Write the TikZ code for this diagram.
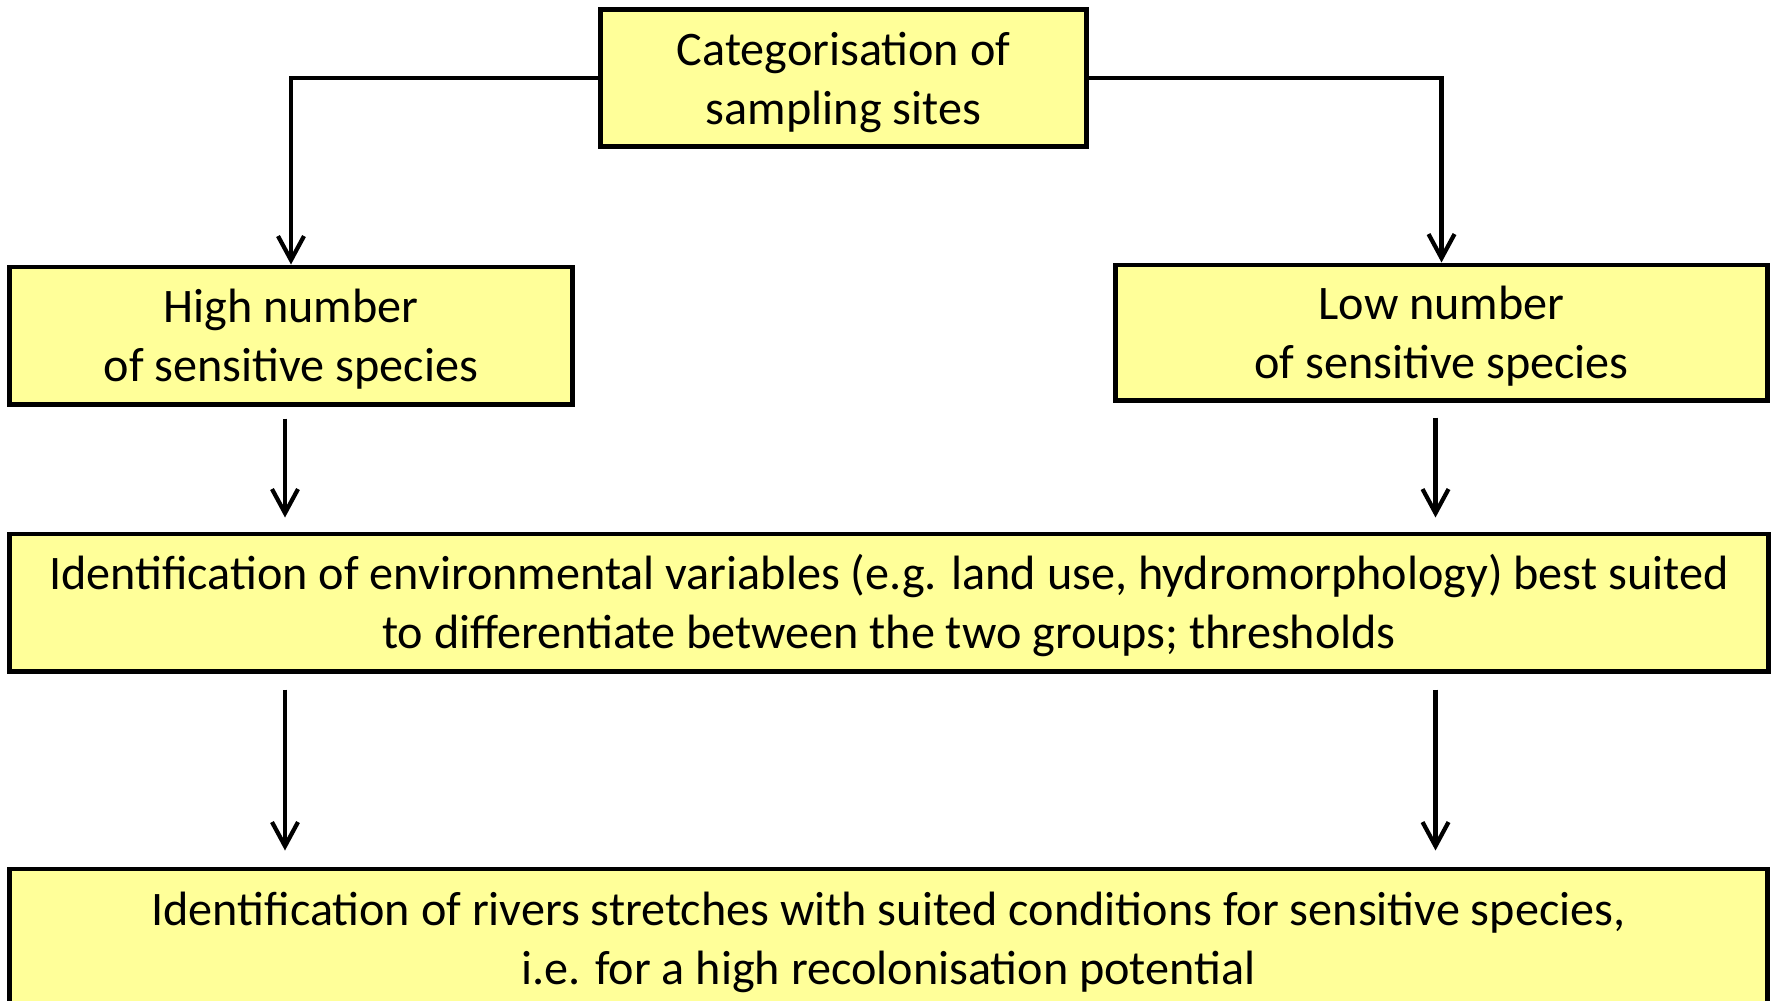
\documentclass[tikz,border=0pt]{standalone}
\usepackage{fontspec}
\setmainfont{Carlito}
\usetikzlibrary{arrows.meta}
\definecolor{boxyellow}{RGB}{255,255,153}
\newcommand{\topstrut}{\rule{0pt}{14.5pt}}
\begin{document}
\begin{tikzpicture}[x=0.01cm, y=-0.01cm,
  box/.style={draw, line width=1.4pt, fill=boxyellow, align=center, inner sep=0pt,
    font=\fontsize{13.7}{16.8}\selectfont},
  arr/.style={line width=1.2pt, -{Straight Barb[length=2.4mm, width=2.6mm, line width=1.2pt]}}
]
\useasboundingbox (0,0) rectangle (1774,1000);
\node[box, minimum width=4.85cm, minimum height=1.36cm] (categ) at (843.5,78) {\topstrut Categorisation of\\\strut sampling sites};
\node[box, minimum width=5.62cm, minimum height=1.37cm] (high) at (291,335.5) {\topstrut High number\\\strut of sensitive species};
\node[box, minimum width=6.51cm, minimum height=1.35cm] (low) at (1441.5,332.5) {\topstrut Low number\\\strut of sensitive species};
\node[box, minimum width=17.58cm, minimum height=1.37cm] (envvars) at (889,602.5) {\topstrut Identification of environmental variables (e.g. land use, hydromorphology) best suited\\\strut to differentiate between the two groups; thresholds};
\node[box, minimum width=17.57cm, minimum height=1.38cm] (rivers) at (888.5,938) {\topstrut Identification of rivers stretches with suited conditions for sensitive species,\\\strut i.e. for a high recolonisation potential};

\draw[arr] (categ.west) -| (high.north);
\draw[arr] (categ.east) -| (low.north);
\draw[arr, shorten <=0.12cm, shorten >=0.14cm] ([xshift=-0.06cm]high.south) -- ([xshift=-0.06cm]high.south |- envvars.north);
\draw[arr, shorten <=0.15cm, shorten >=0.14cm] ([xshift=-0.06cm]low.south) -- ([xshift=-0.06cm]low.south |- envvars.north);
\draw[arr, shorten <=0.16cm, shorten >=0.16cm] ([xshift=-0.06cm]envvars.south -| high.south) -- ([xshift=-0.06cm]high.south |- rivers.north);
\draw[arr, shorten <=0.16cm, shorten >=0.16cm] ([xshift=-0.06cm]envvars.south -| low.south) -- ([xshift=-0.06cm]low.south |- rivers.north);
\end{tikzpicture}
\end{document}
